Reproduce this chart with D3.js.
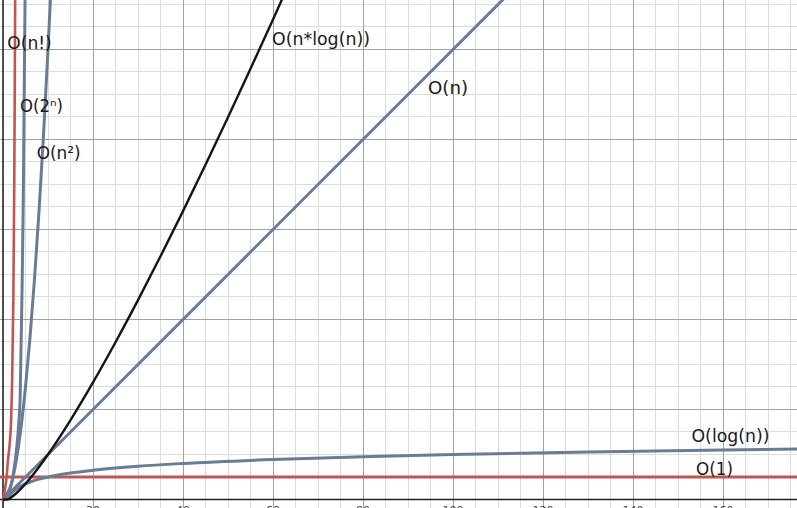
<!DOCTYPE html>
<html>
<head>
<meta charset="utf-8">
<script src="https://cdn.jsdelivr.net/npm/d3@7"></script>
<style>
  html, body { margin: 0; padding: 0; background: #fff; overflow: hidden; }
  svg { display: block; }
</style>
</head>
<body>
<svg id="chart" width="797" height="508"></svg>
<script>
// ---- data ----
const xMajorTicks = [0, 20, 40, 60, 80, 100, 120, 140, 160];
const xTickLabels = ["", "20", "40", "60", "80", "100", "120", "140", "160"];
const yMajorTicks = [0, 20, 40, 60, 80, 100];
const minorStep = 5;

const constN = [-1, 177];
const constY = [5, 5];

const logN = [1, 1.5, 2, 3, 4, 6, 8, 10, 15, 20, 30, 40, 60, 80, 100, 130, 160, 177];
const logY = [0, 0.88, 1.51, 2.39, 3.01, 3.89, 4.52, 5.0, 5.88, 6.5, 7.39, 8.01, 8.89, 9.52, 10.0, 10.57, 11.02, 11.24];

const linN = [0, 112];
const linY = [0, 112];

const nlogN = [0, 1, 2, 4, 6, 8, 10, 15, 20, 25, 30, 35, 40, 45, 50, 55, 60, 63];
const nlogY = [0, 0, 0.6, 2.41, 4.67, 7.22, 10, 17.64, 26.02, 34.95, 44.31, 54.04, 64.08, 74.39, 84.95, 95.72, 106.69, 113.36];

const sqN = [0, 1, 2, 3, 4, 5, 6, 7, 8, 9, 10, 10.6];
const sqY = [0, 1, 4, 9, 16, 25, 36, 49, 64, 81, 100, 112.36];

const expN = [0, 1, 2, 2.5, 3, 3.5, 3.8, 4.2, 4.5, 4.7, 4.9, 5.0];
const expY = [0, 1.5, 4, 7, 11, 17, 22.4, 44.6, 66, 89, 111, 120];

const factN = [0, 0.4, 0.8, 1.1, 1.5, 1.8, 2.0, 2.3, 2.5, 2.6, 2.7, 2.75];
const factY = [0, 2, 5, 8.7, 12.5, 17.6, 25, 44.6, 70, 89, 111, 125];

const seriesNames = ["O(1)", "O(log(n))", "O(n)", "O(n*log(n))", "O(n²)", "O(2ⁿ)", "O(n!)"];

// ---- layout ----
const W = 797, H = 508;
const svg = d3.select("#chart");
const x = d3.scaleLinear().domain([-0.6667, 176.4444]).range([0, W]);
const y = d3.scaleLinear().domain([-1.8889, 111.0]).range([H, 0]);

const RED = "#c25552", BLUE = "#6a7c95", BLACK = "#151515";

// grid: minor
const g = svg.append("g");
const xMinor = d3.range(0, 180, minorStep).filter(v => v % 20 !== 0);
const yMinor = d3.range(0, 115, minorStep).filter(v => v % 20 !== 0);
g.selectAll(".vminor").data(xMinor).join("line")
  .attr("x1", d => x(d)).attr("x2", d => x(d)).attr("y1", 0).attr("y2", H)
  .attr("stroke", "#dcdcdc").attr("stroke-width", 1).attr("shape-rendering", "crispEdges");
g.selectAll(".hminor").data(yMinor).join("line")
  .attr("y1", d => y(d)).attr("y2", d => y(d)).attr("x1", 0).attr("x2", W)
  .attr("stroke", "#dcdcdc").attr("stroke-width", 1).attr("shape-rendering", "crispEdges");
// grid: major
g.selectAll(".vmajor").data(xMajorTicks.slice(1)).join("line")
  .attr("x1", d => x(d)).attr("x2", d => x(d)).attr("y1", 0).attr("y2", H)
  .attr("stroke", "#a2a2a2").attr("stroke-width", 1).attr("shape-rendering", "crispEdges");
g.selectAll(".hmajor").data(yMajorTicks.slice(1)).join("line")
  .attr("y1", d => y(d)).attr("y2", d => y(d)).attr("x1", 0).attr("x2", W)
  .attr("stroke", "#a2a2a2").attr("stroke-width", 1).attr("shape-rendering", "crispEdges");

// axes
svg.append("line").attr("x1", x(0)).attr("x2", x(0)).attr("y1", 0).attr("y2", H)
  .attr("stroke", "#222").attr("stroke-width", 1.6);
svg.append("line").attr("x1", 0).attr("x2", W).attr("y1", y(0)).attr("y2", y(0))
  .attr("stroke", "#222").attr("stroke-width", 1.6);

// tick labels (mostly cut off by bottom edge)
svg.selectAll(".xlab").data(xMajorTicks).join("text")
  .attr("x", d => x(d)).attr("y", 514)
  .attr("text-anchor", "middle")
  .attr("font-family", "DejaVu Sans, sans-serif").attr("font-size", 11)
  .attr("fill", "#444")
  .text((d, i) => xTickLabels[i]);

// lines
const line = d3.line().x(d => x(d[0])).y(d => y(d[1])).curve(d3.curveMonotoneX);
const zip = (a, b) => a.map((v, i) => [v, b[i]]);
const series = [
  { pts: zip(constN, constY), color: RED, w: 3 },
  { pts: zip(logN, logY), color: BLUE, w: 3 },
  { pts: zip(linN, linY), color: BLUE, w: 3 },
  { pts: zip(sqN, sqY), color: BLUE, w: 3 },
  { pts: zip(expN, expY), color: BLUE, w: 3 },
  { pts: zip(factN, factY), color: RED, w: 2.6 },
  { pts: zip(nlogN, nlogY), color: BLACK, w: 2.4 }
];
svg.selectAll(".series").data(series).join("path")
  .attr("d", d => line(d.pts))
  .attr("fill", "none")
  .attr("stroke", d => d.color)
  .attr("stroke-width", d => d.w)
  .attr("stroke-linejoin", "round");

// labels
const labels = [
  { t: seriesNames[6], x: 7.3, y: 49, w: 44.4 },
  { t: seriesNames[5], x: 20, y: 112, w: 43 },
  { t: seriesNames[4], x: 36.7, y: 158.5, w: 44 },
  { t: seriesNames[3], x: 272, y: 45, w: 98 },
  { t: seriesNames[2], x: 428, y: 94, w: 40 },
  { t: seriesNames[1], x: 691.5, y: 441.5, w: 78 },
  { t: seriesNames[0], x: 696, y: 475, w: 37 }
];
svg.selectAll(".lab").data(labels).join("text")
  .attr("x", d => d.x).attr("y", d => d.y)
  .attr("font-family", "DejaVu Sans, sans-serif").attr("font-size", 17)
  .attr("fill", "#1a1a1a")
  .attr("textLength", d => d.w).attr("lengthAdjust", "spacingAndGlyphs")
  .text(d => d.t);
</script>
</body>
</html>
